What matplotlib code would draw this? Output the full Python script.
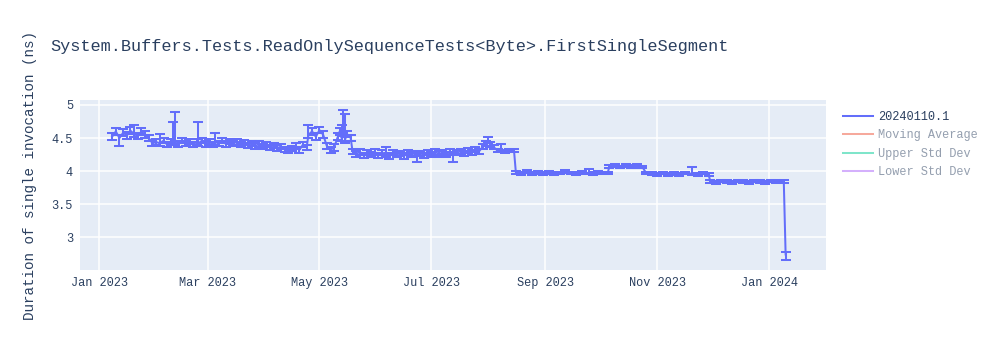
import matplotlib
matplotlib.use("Agg")
import matplotlib.pyplot as plt
import matplotlib.dates as mdates
from matplotlib.lines import Line2D
import pandas as pd

# run dates and measured durations (ns), one line per month
dates = [
    "2023-01-08", "2023-01-10", "2023-01-12", "2023-01-14", "2023-01-16", "2023-01-18",
    "2023-01-20", "2023-01-22", "2023-01-24", "2023-01-26", "2023-01-28", "2023-01-30",
    "2023-02-01", "2023-02-03", "2023-02-05", "2023-02-07", "2023-02-09", "2023-02-10",
    "2023-02-11", "2023-02-13", "2023-02-15", "2023-02-17", "2023-02-19", "2023-02-21",
    "2023-02-23", "2023-02-24", "2023-02-26", "2023-02-28",
    "2023-03-02", "2023-03-04", "2023-03-05", "2023-03-07", "2023-03-09", "2023-03-11",
    "2023-03-13", "2023-03-15", "2023-03-17", "2023-03-19", "2023-03-21", "2023-03-23",
    "2023-03-25", "2023-03-27", "2023-03-29", "2023-03-31",
    "2023-04-02", "2023-04-04", "2023-04-06", "2023-04-08", "2023-04-10", "2023-04-12",
    "2023-04-14", "2023-04-16", "2023-04-18", "2023-04-20", "2023-04-22", "2023-04-24",
    "2023-04-25", "2023-04-27", "2023-04-29",
    "2023-05-01", "2023-05-03", "2023-05-05", "2023-05-07", "2023-05-09", "2023-05-11",
    "2023-05-12", "2023-05-13", "2023-05-14", "2023-05-15", "2023-05-16", "2023-05-18",
    "2023-05-19", "2023-05-21", "2023-05-23", "2023-05-25", "2023-05-27", "2023-05-29",
    "2023-05-31",
    "2023-06-02", "2023-06-04", "2023-06-06", "2023-06-08", "2023-06-10", "2023-06-12",
    "2023-06-14", "2023-06-16", "2023-06-18", "2023-06-20", "2023-06-22", "2023-06-23",
    "2023-06-25", "2023-06-27", "2023-06-29",
    "2023-07-01", "2023-07-03", "2023-07-05", "2023-07-07", "2023-07-09", "2023-07-11",
    "2023-07-13", "2023-07-15", "2023-07-17", "2023-07-19", "2023-07-21", "2023-07-23",
    "2023-07-25", "2023-07-27", "2023-07-29", "2023-07-31",
    "2023-08-01", "2023-08-02", "2023-08-04", "2023-08-06", "2023-08-08", "2023-08-10",
    "2023-08-12", "2023-08-15", "2023-08-16", "2023-08-19", "2023-08-22", "2023-08-25",
    "2023-08-28", "2023-08-31",
    "2023-09-03", "2023-09-06", "2023-09-09", "2023-09-12", "2023-09-15", "2023-09-18",
    "2023-09-21", "2023-09-25", "2023-09-27", "2023-09-30",
    "2023-10-03", "2023-10-05", "2023-10-06", "2023-10-09", "2023-10-12", "2023-10-15",
    "2023-10-18", "2023-10-21", "2023-10-24", "2023-10-26", "2023-10-29",
    "2023-11-01", "2023-11-04", "2023-11-07", "2023-11-10", "2023-11-13", "2023-11-16",
    "2023-11-20", "2023-11-23", "2023-11-26", "2023-11-29", "2023-11-30",
    "2023-12-03", "2023-12-06", "2023-12-09", "2023-12-12", "2023-12-15", "2023-12-18",
    "2023-12-21", "2023-12-24", "2023-12-27", "2023-12-30",
    "2024-01-02", "2024-01-05", "2024-01-09", "2024-01-10",
]
values = [
    4.52, 4.60, 4.50, 4.58, 4.54, 4.61, 4.56, 4.53, 4.60, 4.55, 4.50, 4.42,
    4.44, 4.42, 4.46, 4.40, 4.45, 4.44, 4.44, 4.41, 4.46, 4.42, 4.45, 4.40,
    4.44, 4.42, 4.46, 4.41,
    4.44, 4.40, 4.44, 4.42, 4.46, 4.41, 4.45, 4.42, 4.44, 4.40, 4.43, 4.39,
    4.42, 4.38, 4.41, 4.37,
    4.40, 4.36, 4.39, 4.35, 4.37, 4.33, 4.31, 4.34, 4.38, 4.32, 4.40, 4.36,
    4.55, 4.60, 4.52,
    4.62, 4.55, 4.38, 4.32, 4.36, 4.52, 4.60, 4.50, 4.58, 4.48, 4.56, 4.50,
    4.30, 4.26, 4.29, 4.24, 4.28, 4.25, 4.29,
    4.24, 4.28, 4.26, 4.23, 4.28, 4.25, 4.27, 4.23, 4.28, 4.25, 4.27, 4.24,
    4.27, 4.24, 4.28,
    4.25, 4.29, 4.26, 4.28, 4.25, 4.29, 4.25, 4.28, 4.30, 4.27, 4.31, 4.28,
    4.33, 4.30, 4.37, 4.42,
    4.46, 4.40, 4.36, 4.31, 4.32, 4.30, 4.31, 4.31, 3.98, 3.96, 3.99, 3.96,
    3.98, 3.96,
    3.98, 3.96, 3.97, 3.99, 3.97, 3.96, 3.98, 3.97, 3.96, 3.98,
    3.97, 3.97, 4.07, 4.08, 4.06, 4.08, 4.07, 4.07, 4.06, 3.97, 3.96,
    3.95, 3.97, 3.95, 3.96, 3.95, 3.97, 3.96, 3.95, 3.97, 3.95, 3.84,
    3.83, 3.85, 3.84, 3.83, 3.85, 3.84, 3.83, 3.85, 3.84, 3.83,
    3.85, 3.84, 3.84, 2.74,
]
err_up = [
    0.05, 0.05, 0.05, 0.05, 0.05, 0.05, 0.13, 0.05, 0.05, 0.05, 0.05, 0.04,
    0.04, 0.14, 0.04, 0.04, 0.04, 0.30, 0.45, 0.04, 0.04, 0.04, 0.04, 0.04,
    0.04, 0.32, 0.04, 0.04,
    0.04, 0.04, 0.14, 0.04, 0.04, 0.04, 0.04, 0.04, 0.04, 0.04, 0.04, 0.04,
    0.04, 0.04, 0.04, 0.04,
    0.04, 0.04, 0.04, 0.04, 0.04, 0.04, 0.04, 0.04, 0.04, 0.04, 0.04, 0.04,
    0.14, 0.05, 0.05,
    0.05, 0.05, 0.05, 0.05, 0.05, 0.05, 0.05, 0.19, 0.35, 0.38, 0.05, 0.05,
    0.04, 0.04, 0.04, 0.04, 0.04, 0.04, 0.04,
    0.04, 0.04, 0.10, 0.04, 0.04, 0.04, 0.04, 0.04, 0.04, 0.04, 0.04, 0.04,
    0.04, 0.04, 0.04,
    0.04, 0.04, 0.04, 0.04, 0.04, 0.04, 0.04, 0.04, 0.04, 0.04, 0.04, 0.04,
    0.04, 0.04, 0.04, 0.04,
    0.06, 0.04, 0.03, 0.02, 0.09, 0.02, 0.02, 0.02, 0.02, 0.02, 0.02, 0.02,
    0.02, 0.02,
    0.02, 0.02, 0.02, 0.02, 0.02, 0.02, 0.02, 0.06, 0.02, 0.02,
    0.02, 0.02, 0.02, 0.02, 0.02, 0.02, 0.02, 0.03, 0.02, 0.02, 0.02,
    0.02, 0.02, 0.02, 0.02, 0.02, 0.02, 0.10, 0.02, 0.02, 0.02, 0.02,
    0.02, 0.02, 0.02, 0.02, 0.02, 0.02, 0.02, 0.02, 0.02, 0.02,
    0.02, 0.02, 0.02, 0.04,
]
err_dn = [
    0.05, 0.05, 0.12, 0.05, 0.05, 0.05, 0.05, 0.05, 0.05, 0.05, 0.05, 0.04,
    0.04, 0.04, 0.04, 0.04, 0.04, 0.04, 0.04, 0.04, 0.04, 0.04, 0.04, 0.04,
    0.04, 0.04, 0.04, 0.04,
    0.04, 0.04, 0.04, 0.04, 0.04, 0.04, 0.04, 0.04, 0.04, 0.04, 0.04, 0.04,
    0.04, 0.04, 0.04, 0.04,
    0.04, 0.04, 0.04, 0.04, 0.04, 0.04, 0.04, 0.04, 0.04, 0.04, 0.04, 0.04,
    0.05, 0.05, 0.05,
    0.05, 0.05, 0.05, 0.05, 0.05, 0.05, 0.05, 0.05, 0.05, 0.05, 0.05, 0.05,
    0.04, 0.04, 0.04, 0.04, 0.04, 0.04, 0.04,
    0.04, 0.04, 0.04, 0.04, 0.04, 0.04, 0.04, 0.04, 0.04, 0.04, 0.04, 0.10,
    0.04, 0.04, 0.04,
    0.04, 0.04, 0.04, 0.04, 0.04, 0.04, 0.11, 0.04, 0.04, 0.04, 0.04, 0.04,
    0.04, 0.04, 0.04, 0.04,
    0.04, 0.04, 0.03, 0.02, 0.02, 0.02, 0.02, 0.02, 0.02, 0.02, 0.02, 0.02,
    0.02, 0.02,
    0.02, 0.02, 0.02, 0.02, 0.02, 0.02, 0.02, 0.02, 0.02, 0.02,
    0.02, 0.02, 0.02, 0.02, 0.02, 0.02, 0.02, 0.02, 0.02, 0.02, 0.02,
    0.02, 0.02, 0.02, 0.02, 0.02, 0.02, 0.02, 0.02, 0.02, 0.02, 0.02,
    0.02, 0.02, 0.02, 0.02, 0.02, 0.02, 0.02, 0.02, 0.02, 0.02,
    0.02, 0.02, 0.02, 0.08,
]
run_label = "20240110.1"
legend_labels = [run_label, "Moving Average", "Upper Std Dev", "Lower Std Dev"]
legend_colors = ["#636efa", "#EF553B", "#00cc96", "#ab63fa"]
title = "System.Buffers.Tests.ReadOnlySequenceTests<Byte>.FirstSingleSegment"
ylabel = "Duration of single invocation (ns)"
tick_dates = ["2023-01-01", "2023-03-01", "2023-05-01", "2023-07-01",
              "2023-09-01", "2023-11-01", "2024-01-01"]

plt.rcParams["font.family"] = ["Liberation Mono", "DejaVu Sans Mono"]
txt = "#2a3f5f"
blue = legend_colors[0]

x = pd.to_datetime(dates)

fig = plt.figure(figsize=(10, 3.5), dpi=100)
ax = fig.add_axes([0.08, 1 - 270 / 350, 0.746, 170 / 350])
ax.set_facecolor("#E5ECF6")

ax.errorbar(x, values, yerr=[err_dn, err_up], color=blue, ecolor=blue,
            lw=1.45, elinewidth=1.45, capsize=3.6, capthick=1.45, zorder=3)

ax.set_xlim(pd.Timestamp("2022-12-21 12:00"), pd.Timestamp("2024-02-01"))
ax.set_ylim(2.505, 5.075)
ax.set_yticks([3, 3.5, 4, 4.5, 5])
ax.set_yticklabels(["3", "3.5", "4", "4.5", "5"])
ax.set_xticks(pd.to_datetime(tick_dates))
ax.xaxis.set_major_formatter(mdates.DateFormatter("%b %Y"))
ax.grid(True, color="white", lw=1.1)
ax.set_axisbelow(True)
for s in ax.spines.values():
    s.set_visible(False)
ax.tick_params(length=0, labelsize=8.6, labelcolor=txt, pad=5)

fig.text(0.05, 1 - 46 / 350, title, fontsize=12.2, color=txt, va="center")
fig.text(0.03, 1 - 175 / 350, ylabel, fontsize=10.3, color=txt,
         rotation=90, va="center", ha="center")

handles = [Line2D([], [], color=c, lw=1.45, alpha=(1 if i == 0 else 0.5))
           for i, c in enumerate(legend_colors)]
leg = ax.legend(handles, legend_labels, loc="upper left", frameon=False,
                bbox_to_anchor=(0.838, 1 - 106 / 350), bbox_transform=fig.transFigure,
                fontsize=8.6, handlelength=2.5, handletextpad=0.45,
                labelspacing=0.55, borderaxespad=0)
for i, t in enumerate(leg.get_texts()):
    t.set_color(txt)
    if i > 0:
        t.set_alpha(0.5)

fig.savefig("out.png", dpi=100)
